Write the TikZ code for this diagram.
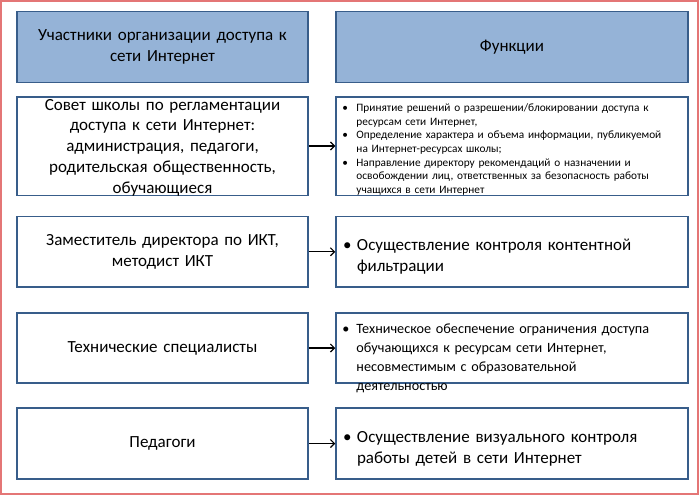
\documentclass[tikz,border=0pt]{standalone}
\usepackage{fontspec}
\setmainfont{Carlito}
\usetikzlibrary{arrows.meta,positioning}

\definecolor{headfill}{RGB}{149,179,215}
\definecolor{boxline}{RGB}{56,93,138}
\definecolor{frameline}{RGB}{228,118,118}

\newcommand{\bul}[2][14pt]{\par\hangindent=#1\hangafter=1\noindent\makebox[#1][l]{\textbullet}#2\par}

\begin{document}
\begin{tikzpicture}[
		x=1pt, y=-1pt,
		cell/.style={draw=boxline, line width=1.5pt, inner sep=0pt},
		leftcell/.style={cell, minimum width=291pt, text width=280pt, align=center},
		rightcell/.style={cell, minimum width=352pt, inner xsep=7pt, text width=338pt, align=left},
		headcell/.style={fill=headfill},
		link/.style={line width=1.2pt, -{Straight Barb[length=4pt,width=8pt]}},
	]
		\useasboundingbox (0,0) rectangle (700,496);
		\draw[frameline, line width=1.5pt] (1,1) rectangle (698,494);

		% headers
		\node[leftcell, headcell, minimum height=71pt, font=\fontsize{17}{21}\selectfont] (partHead) at (162.5,47)
			{Участники организации доступа к\\сети Интернет};
		\node[rightcell, headcell, minimum height=71pt, align=center, font=\fontsize{17}{21}\selectfont] (funcHead) at (512,47)
			{Функции};

		% participants
		\node[leftcell, minimum height=98.5pt] (council) at (162.5,146) {};
		\node[text width=280pt, align=center, inner sep=0pt, font=\fontsize{17}{20.8}\selectfont] (councilName) at ([yshift=-1.5pt]council.center)
			{Совет школы по регламентации\\доступа к сети Интернет:\\администрация, педагоги,\\родительская общественность,\\обучающиеся};
		\node[leftcell, minimum height=70.5pt, font=\fontsize{17}{21}\selectfont] (deputy) at (162.5,251.75)
			{Заместитель директора по ИКТ,\\методист ИКТ};
		\node[leftcell, minimum height=70pt, font=\fontsize{17}{21}\selectfont] (techs) at (162.5,348)
			{Технические специалисты};
		\node[leftcell, minimum height=71pt, font=\fontsize{17}{21}\selectfont] (teachers) at (162.5,443.5)
			{Педагоги};

		% functions
		\node[rightcell, minimum height=98.5pt] (councilFunc) at (512,146) {};
		\node[anchor=north west, inner sep=0pt, text width=338pt, align=left, font=\fontsize{11.3}{13.7}\selectfont]
			(councilText) at ([xshift=7pt, yshift=-1.5pt]councilFunc.north west)
			{\bul{Принятие решений о разрешении/блокировании доступа к\newline ресурсам сети Интернет,}
			 \bul{Определение характера и объема информации, публикуемой\newline на Интернет-ресурсах школы;}
			 \bul{Направление директору рекомендаций о назначении и\newline освобождении лиц, ответственных за безопасность работы\newline учащихся в сети Интернет}};
		\node[rightcell, minimum height=70.5pt, font=\fontsize{17}{21}\selectfont] (deputyFunc) at (512,251.75)
			{\bul{Осуществление контроля контентной\newline фильтрации}};
		\node[rightcell, minimum height=70pt] (techsFunc) at (512,348) {};
		\node[anchor=north west, inner sep=0pt, text width=338pt, align=left, font=\fontsize{14.2}{18.9}\selectfont]
			(techsText) at ([xshift=7pt, yshift=-2pt]techsFunc.north west)
			{\bul{Техническое обеспечение ограничения доступа\newline обучающихся к ресурсам сети Интернет,\newline несовместимым с образовательной\newline деятельностью}};
		\node[rightcell, minimum height=71pt, font=\fontsize{17}{21}\selectfont] (teachersFunc) at (512,443.5)
			{\bul{Осуществление визуального контроля\newline работы детей в сети Интернет}};

		% arrows
		\draw[link] (council) -- (councilFunc);
		\draw[link] (deputy) -- (deputyFunc);
		\draw[link] (techs) -- (techsFunc);
		\draw[link] (teachers) -- (teachersFunc);
\end{tikzpicture}
\end{document}
